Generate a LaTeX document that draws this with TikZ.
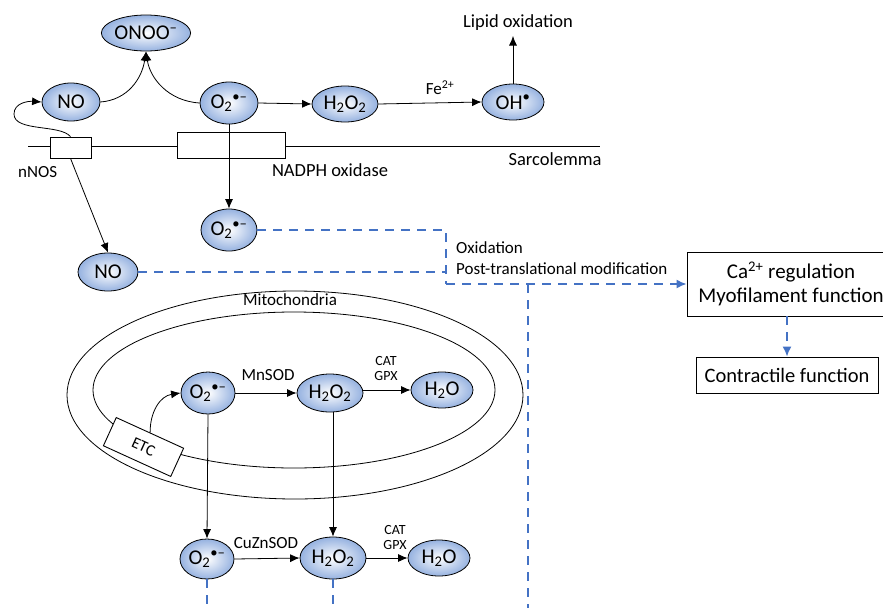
\documentclass[tikz,border=0pt]{standalone}
\usepackage{fontspec}
\setmainfont{Carlito}
\usetikzlibrary{shapes.geometric,arrows.meta}
\definecolor{blueline}{RGB}{68,114,196}
\definecolor{nodeblue}{RGB}{150,178,224}
\newcommand{\supox}{O\textsubscript{2}\textsuperscript{•–}}
\newcommand{\hhoo}{H\textsubscript{2}O\textsubscript{2}}
\newcommand{\hho}{H\textsubscript{2}O}
\begin{document}
\begin{tikzpicture}[x=1pt,y=-1pt,
  spec/.style={ellipse,draw,line width=0.8pt,inner sep=0pt,shade,inner color=white,outer color=nodeblue,font=\fontsize{21}{21}\selectfont},
  arr/.style={-{Latex[length=9.5pt,width=8pt]},line width=0.8pt},
  ln/.style={line width=0.8pt},
  bdash/.style={blueline,line width=1.6pt,dash pattern=on 9pt off 7pt},
  barr/.style={bdash,-{Latex[length=10pt,width=9pt]}},
  lbl/.style={font=\fontsize{18.5}{18.5}\selectfont,inner sep=0pt},
  mid/.style={font=\fontsize{17}{17}\selectfont,inner sep=0pt},
  small/.style={font=\fontsize{14}{15}\selectfont,inner sep=0pt,align=center},
  membox/.style={draw,fill=white,line width=0.8pt,inner sep=0pt},
  fbox/.style={draw,fill=white,line width=0.9pt,inner sep=0pt,align=center}]
\useasboundingbox (0,0) rectangle (883,608);

% membrane
\coordinate (memL) at (28,146);
\coordinate (memR) at (600,146);
\draw[ln] (memL) -- (memR);
\node[membox,minimum width=41pt,minimum height=21pt] (nnos) at (70.5,147.5) {};
\node[membox,minimum width=108pt,minimum height=26pt] (nadph) at (231,145) {};
\node[mid,anchor=west] (nnoslbl) at (18,172) {nNOS};
\node[lbl] (nadphlbl) at (330,170) {NADPH oxidase};
\node[lbl] (sarco) at (555,159) {Sarcolemma};

% top species
\node[spec,minimum width=78pt,minimum height=36pt] (onoo) at (146,33) {ONOO\textsuperscript{–}};
\node[spec,minimum width=58pt,minimum height=38pt] (no1) at (71,102) {NO};
\node[spec,minimum width=58pt,minimum height=42pt] (o2a) at (229,103) {\supox};
\node[spec,minimum width=66pt,minimum height=36pt] (h2o2a) at (345,104) {\hhoo};
\node[spec,minimum width=62pt,minimum height=36pt] (oh) at (513,102) {OH\textsuperscript{•}};
\node[lbl] (lipid) at (518,23) {Lipid oxidation};
\node[mid] (fe) at (440,88) {Fe\textsuperscript{2+}};

\coordinate (lipidtip) at (513,36);
\draw[arr] (oh.north) -- (lipidtip);
\draw[arr] (o2a.east) -- (h2o2a.west);
\draw[arr] (h2o2a.east) -- (oh.west);
\draw[arr] (no1.east) .. controls (128,100) and (142,78) .. (onoo.south);
\draw[arr] (o2a.west) .. controls (168,101) and (150,78) .. (onoo.south);
\draw[arr] (nnos.north) .. controls (60,124) and (14,132) .. (14,114) .. controls (14,103) and (28,101) .. (no1.west);

% lower sarcolemma species
\node[spec,minimum width=56pt,minimum height=42pt] (o2b) at (229,230) {\supox};
\node[spec,minimum width=60pt,minimum height=38pt] (no2) at (108,272) {NO};
\draw[arr] (o2a.south) -- (o2b.north);
\draw[arr] (nnos.south) -- (no2.north);

% mitochondria
\draw[ln] (295,395) ellipse [x radius=228pt, y radius=104pt];
\draw[ln] (294,390) ellipse [x radius=201pt, y radius=78pt];
\node[mid] (mito) at (290,300) {Mitochondria};
\node[fbox,minimum width=74pt,minimum height=31pt,rotate=-24.5,font=\fontsize{16}{16}\selectfont] (etc) at (143.5,447) {ETC};

\node[spec,minimum width=54pt,minimum height=42pt] (o2m) at (208,393) {\supox};
\node[spec,minimum width=66pt,minimum height=38pt] (h2o2m) at (330,393) {\hhoo};
\node[spec,minimum width=62pt,minimum height=36pt] (h2om) at (442,390) {\hho};
\node[mid] (mnsod) at (268,375) {MnSOD};
\node[small] (catm) at (386,368) {CAT\\GPX};
\draw[arr] (etc.north) .. controls (150,412) and (160,396) .. (o2m.west);
\draw[arr] (o2m.east) -- (h2o2m.west);
\draw[arr] (h2o2m.east |- h2om.west) -- (h2om.west);

\node[spec,minimum width=54pt,minimum height=40pt] (o2c) at (207,559) {\supox};
\node[spec,minimum width=66pt,minimum height=42pt] (h2o2c) at (333,558) {\hhoo};
\node[spec,minimum width=62pt,minimum height=36pt] (h2oc) at (439,558) {\hho};
\node[mid] (cuzn) at (266,543) {CuZnSOD};
\node[small] (catc) at (395,537) {CAT\\GPX};
\draw[arr] (o2m.south) -- (o2c.north);
\draw[arr] (h2o2m.south -| h2o2c.north) -- (h2o2c.north);
\draw[arr] (o2c.east) -- (h2o2c.west);
\draw[arr] (h2o2c.east) -- (h2oc.west);

% right boxes
\node[fbox,minimum width=208pt,minimum height=64pt,font=\fontsize{21}{24}\selectfont] (ca) at (791,284) {Ca\textsuperscript{2+} regulation\\Myofilament function};
\node[fbox,minimum width=182pt,minimum height=36pt,font=\fontsize{20.5}{20.5}\selectfont] (con) at (787,375) {Contractile function};

% blue dashed paths
\coordinate (j1) at (446,230);
\coordinate (j2) at (446,284);
\coordinate (j3) at (446,272);
\coordinate (v1) at (528,284);
\coordinate (v1b) at (528,608);
\coordinate (o2cend) at (207,608);
\coordinate (h2o2cend) at (333,608);
\draw[bdash] (o2b.east) -- (j1) -- (j2);
\draw[bdash] (no2.east) -- (j3);
\draw[barr] (j2) -- (ca.west);
\draw[bdash] (v1) -- (v1b);
\draw[bdash] (o2c.south) -- (o2cend);
\draw[bdash] (h2o2c.south) -- (h2o2cend);
\draw[barr] (ca.south -| con.north) -- (con.north);
\node[mid,anchor=west] (ox) at (456,248) {Oxidation};
\node[mid,anchor=west] (ptm) at (456,269) {Post-translational modification};
\end{tikzpicture}
\end{document}
